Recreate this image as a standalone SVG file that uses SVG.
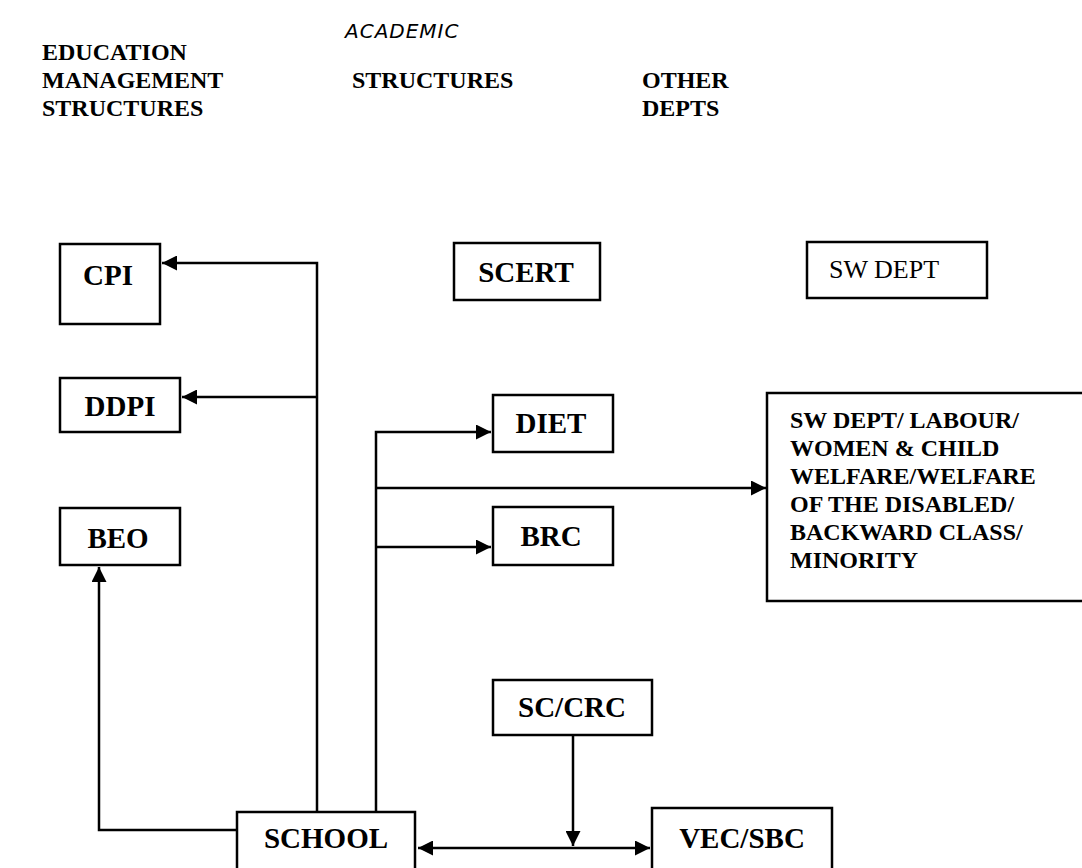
<svg xmlns="http://www.w3.org/2000/svg" width="1082" height="868" viewBox="0 0 1082 868">
<defs>
<style>
.t{font-family:"Liberation Serif","Times New Roman",serif;font-weight:bold;fill:#000;}
.h{font-size:24px;}
.n{font-size:29px;}
.s{font-size:24px;}
.box{fill:#fff;stroke:#000;stroke-width:2.5;}
.c{fill:none;stroke:#000;stroke-width:2.5;}
</style>
<marker id="ah" viewBox="0 0 10 10" refX="10" refY="5" markerWidth="6" markerHeight="6" markerUnits="strokeWidth" orient="auto-start-reverse">
<path d="M0,0 L10,5 L0,10 Z" fill="#000"/>
</marker>
</defs>
<rect width="1082" height="868" fill="#fff"/>
<g id="headers">
<text class="t h" x="42" y="60">EDUCATION</text>
<text class="t h" x="42" y="88">MANAGEMENT</text>
<text class="t h" x="42" y="116">STRUCTURES</text>
<text x="345" y="38" style="font-family:'DejaVu Sans',sans-serif;font-size:20px;font-style:italic;letter-spacing:1px" fill="#000">ACADEMIC</text>
<text class="t h" x="352" y="88">STRUCTURES</text>
<text class="t h" x="642" y="88">OTHER</text>
<text class="t h" x="642" y="116">DEPTS</text>
</g>
<g id="connectors">
<polyline class="c" points="317,812 317,263 162,263" marker-end="url(#ah)"/>
<line class="c" x1="317" y1="397" x2="182" y2="397" marker-end="url(#ah)"/>
<polyline class="c" points="237,830 99,830 99,567" marker-end="url(#ah)"/>
<polyline class="c" points="376,812 376,432 491,432" marker-end="url(#ah)"/>
<line class="c" x1="376" y1="488" x2="766" y2="488" marker-end="url(#ah)"/>
<line class="c" x1="376" y1="547" x2="491" y2="547" marker-end="url(#ah)"/>
<line class="c" x1="418" y1="848" x2="650" y2="848" marker-start="url(#ah)" marker-end="url(#ah)"/>
<line class="c" x1="573" y1="735" x2="573" y2="846" marker-end="url(#ah)"/>
</g>
<g id="cpi"><rect class="box" x="60" y="244" width="100" height="80"/><text class="t n" x="108" y="285" text-anchor="middle">CPI</text></g>
<g id="ddpi"><rect class="box" x="60" y="378" width="120" height="54"/><text class="t n" x="120" y="416" text-anchor="middle">DDPI</text></g>
<g id="beo"><rect class="box" x="60" y="508" width="120" height="57"/><text class="t n" x="118" y="548" text-anchor="middle">BEO</text></g>
<g id="scert"><rect class="box" x="454" y="243" width="146" height="57"/><text class="t n" x="526" y="282" text-anchor="middle">SCERT</text></g>
<g id="swdept"><rect class="box" x="807" y="242" width="180" height="56"/><text x="884" y="278" text-anchor="middle" style="font-family:'Liberation Serif',serif;font-size:26px" fill="#000">SW DEPT</text></g>
<g id="diet"><rect class="box" x="493" y="395" width="120" height="57"/><text class="t n" x="551" y="433" text-anchor="middle">DIET</text></g>
<g id="brc"><rect class="box" x="493" y="507" width="120" height="58"/><text class="t n" x="551" y="546" text-anchor="middle">BRC</text></g>
<g id="swgroup"><rect class="box" x="767" y="393" width="320" height="208"/>
<text class="t s" x="790" y="428">SW DEPT/ LABOUR/</text>
<text class="t s" x="790" y="456">WOMEN &amp; CHILD</text>
<text class="t s" x="790" y="484">WELFARE/WELFARE</text>
<text class="t s" x="790" y="512">OF THE DISABLED/</text>
<text class="t s" x="790" y="540">BACKWARD CLASS/</text>
<text class="t s" x="790" y="568">MINORITY</text>
</g>
<g id="sccrc"><rect class="box" x="493" y="680" width="159" height="55"/><text class="t n" x="572" y="717" text-anchor="middle">SC/CRC</text></g>
<g id="school"><rect class="box" x="237" y="812" width="178" height="70"/><text class="t n" x="326" y="848" text-anchor="middle">SCHOOL</text></g>
<g id="vecsbc"><rect class="box" x="652" y="808" width="180" height="70"/><text class="t n" x="742" y="848" text-anchor="middle">VEC/SBC</text></g>
</svg>
